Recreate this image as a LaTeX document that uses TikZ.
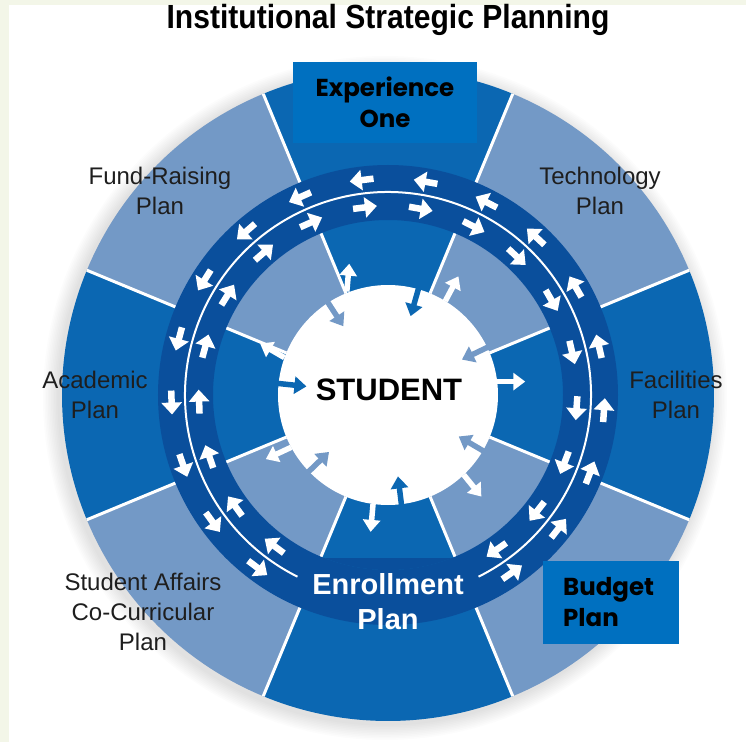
\documentclass[tikz,border=0pt]{standalone}
\usepackage{fontspec}
\setmainfont{Liberation Sans}
\newfontfamily\boxfont{Poppins}
\usetikzlibrary{arrows.meta,calc}

\definecolor{darkseg}{HTML}{0B67B2}
\definecolor{lightseg}{HTML}{7399C6}
\definecolor{ringblue}{HTML}{0A4F9C}
\definecolor{boxblue}{HTML}{0070C0}
\definecolor{labelgray}{HTML}{1E1E1E}
\definecolor{paper}{HTML}{F3F6E8}

\tikzset{
  seglabel/.style={text=labelgray, align=center, font=\fontsize{24}{30}\selectfont},
  planbox/.style={fill=boxblue, inner sep=0pt, font=\boxfont\bfseries\fontsize{24.5}{31}\selectfont},
  flow/.style={white, line width=6.5pt, -{Triangle[width=20pt,length=12pt]}},
  poke/.style={line width=5.5pt, -{Triangle[width=17pt,length=12pt]}},
}

\begin{document}
\begin{tikzpicture}[x=1pt,y=1pt]
\useasboundingbox (-388,-347) rectangle (358,395);
\fill[white] (-388,-347) rectangle (358,395);
\fill[paper] (-388,-347) rectangle (-379,395); % tinted edges
\fill[paper] (-388,390) rectangle (358,395);

\node[font=\bfseries\fontsize{31}{31}\selectfont, xscale=0.97, yscale=1.08] (title) at (0,375) {Institutional Strategic Planning};

% soft shadow under the wheel
\foreach \r in {1,...,10}
  \fill[black, opacity=0.012] (-3,-3) circle (326+1.6*\r);

% outer wheel: eight plans
\foreach \a/\c in {90/darkseg,45/lightseg,0/darkseg,-45/lightseg,-90/darkseg,-135/lightseg,180/darkseg,135/lightseg}
  \fill[\c] (0,0) -- (\a-22.5:326) arc (\a-22.5:\a+22.5:326) -- cycle;
\foreach \a in {22.5,67.5,...,337.5}
  \draw[white, line width=3pt] (\a:110) -- (\a:326);

% ring with the two flows
\fill[ringblue, even odd rule] (0,0) circle (230) circle (175);
\fill[ringblue] (-64,-163) -- (64,-163) arc (-68.6:-111.4:175) -- cycle; % under Enrollment
\draw[white, line width=2pt] (-63.5:203) arc (-63.5:243.5:203);
\foreach \a in {-55,-38,-21,-4,13,30,47,63,80,97,114,131,148,165,182,199,216,233} {
  \draw[flow] ($(\a:216.5)+(\a+90:-12)$) -- ($(\a:216.5)+(\a+90:12)$);
  \draw[flow] ($(\a:189)+(\a-90:-12)$) -- ($(\a:189)+(\a-90:12)$);
}

% student in the middle
\node[circle, fill=white, minimum size=220pt, inner sep=0pt] (student) at (0,0) {};
\node[font=\bfseries\fontsize{31}{31}\selectfont] (studentlabel) at (1,5) {STUDENT};

% arrows in and out of the student
\foreach \a/\c in {174/darkseg,123/lightseg,74/darkseg,25.6/lightseg,-30.4/lightseg,-83/darkseg,-136/lightseg}
  \draw[poke, \c] (\a:114) -- (\a:82);
\foreach \a/\d in {159/150,108.8/85,59/62,6.2/0,-47/-51,-97.5/-95,-152/-155}
  \draw[poke, white] ($(\a:124)+(\d:-14)$) -- ($(\a:124)+(\d:14)$);

% plan labels
\node[seglabel] (fundraising) at (-228,204) {Fund-Raising\\Plan};
\node[seglabel] (technology) at (212,204) {Technology\\Plan};
\node[seglabel] (academic) at (-293,0) {Academic\\Plan};
\node[seglabel] (facilities) at (288,0) {Facilities\\Plan};
\node[seglabel] (affairs) at (-245,-217) {Student Affairs\\Co-Curricular\\Plan};
\node[white, align=center, font=\bfseries\fontsize{29}{35}\selectfont] (enrollment) at (0,-207) {Enrollment\\Plan};

% highlighted plans
\node[planbox, minimum width=184pt, minimum height=81pt, align=center] (experience) at (-3,292.5) {Experience\\One};
\node[planbox, anchor=west, inner xsep=20pt, text width=96pt, minimum height=83pt, align=left] (budget) at (155,-207.5) {Budget\\Plan};
\end{tikzpicture}
\end{document}
